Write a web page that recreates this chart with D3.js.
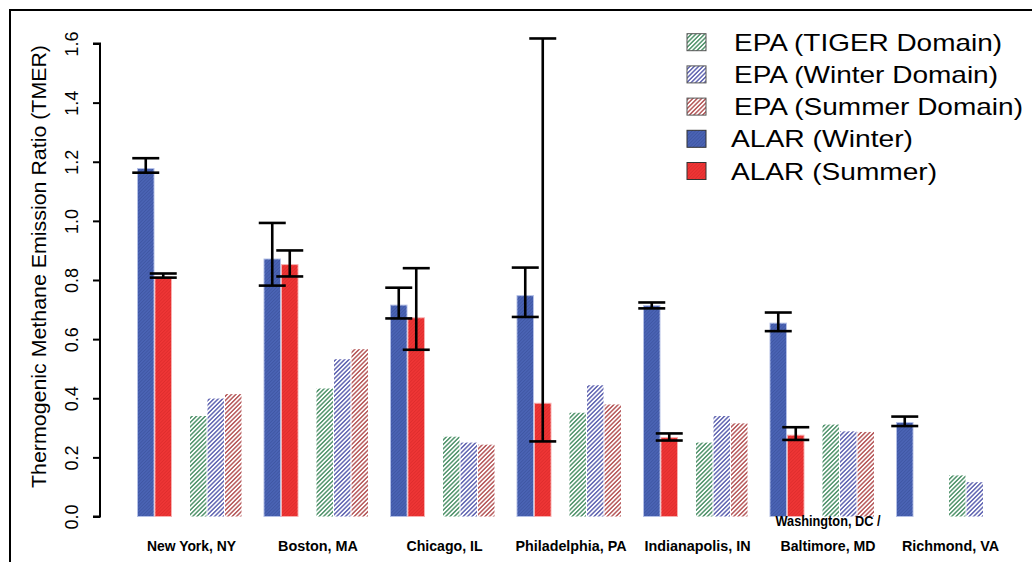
<!DOCTYPE html>
<html>
<head>
<meta charset="utf-8">
<script src="https://cdn.jsdelivr.net/npm/d3@7"></script>
<style>
  html, body { margin: 0; padding: 0; background: #fff; }
  svg { display: block; font-family: "Liberation Sans", Arial, Helvetica, sans-serif; }
</style>
</head>
<body>
<svg id="chart" width="1032" height="562"></svg>
<script>
// City groups along the x axis (labels may span two lines)
const cities = ["New York, NY", "Boston, MA", "Chicago, IL", "Philadelphia, PA",
                "Indianapolis, IN", "Washington, DC /\nBaltimore, MD", "Richmond, VA"];

// ALAR observed TMER with lower / upper error bounds
const alarWinter   = [1.177, 0.871, 0.715, 0.747, 0.713, 0.654, 0.318];
const alarWinterLo = [1.163, 0.781, 0.670, 0.675, 0.704, 0.627, 0.306];
const alarWinterHi = [1.212, 0.993, 0.774, 0.842, 0.724, 0.690, 0.338];
const alarSummer   = [0.810, 0.852, 0.672, 0.383, 0.267, 0.275, 0];
const alarSummerLo = [0.808, 0.812, 0.564, 0.254, 0.257, 0.259, null];
const alarSummerHi = [0.822, 0.900, 0.840, 1.617, 0.281, 0.302, null];

// EPA inventory ratios over three domains
const epaTiger  = [0.340, 0.433, 0.270, 0.351, 0.250, 0.311, 0.139];
const epaWinter = [0.399, 0.532, 0.250, 0.444, 0.340, 0.288, 0.116];
const epaSummer = [0.414, 0.566, 0.243, 0.379, 0.315, 0.286, 0];

const yTicks = [0.0, 0.2, 0.4, 0.6, 0.8, 1.0, 1.2, 1.4, 1.6];

const legendLabels = ["EPA (TIGER Domain)", "EPA (Winter Domain)", "EPA (Summer Domain)",
                      "ALAR (Winter)", "ALAR (Summer)"];

// Series definitions built from the arrays above
const series = [
  { key: "alarW", slot: "s0", values: alarWinter, lo: alarWinterLo, hi: alarWinterHi, fill: "#4a63b4", edge: "#b4c0e6", kind: "solid", hatch: "#3b529c" },
  { key: "alarS", slot: "s1", values: alarSummer, lo: alarSummerLo, hi: alarSummerHi, fill: "#ee3535", edge: "#f7b0b0", kind: "solid", hatch: "#d82a2a" },
  { key: "epaT",  slot: "s3", values: epaTiger,  fill: "#2f7f4f", kind: "hatch" },
  { key: "epaW",  slot: "s4", values: epaWinter, fill: "#4348a3", kind: "hatch" },
  { key: "epaS",  slot: "s5", values: epaSummer, fill: "#a8383a", kind: "hatch" }
];

const svg = d3.select("#chart");

// Outer frame
svg.append("rect")
  .attr("x", 10).attr("y", 10).attr("width", 1100).attr("height", 600)
  .attr("fill", "none").attr("stroke", "#000").attr("stroke-width", 2);

// Diagonal line patterns
const defs = svg.append("defs");
function addPattern(id, color, spacing, width, opacity) {
  const p = defs.append("pattern")
    .attr("id", id)
    .attr("patternUnits", "userSpaceOnUse")
    .attr("width", spacing).attr("height", spacing)
    .attr("patternTransform", "rotate(45)");
  p.append("line")
    .attr("x1", spacing / 2).attr("y1", 0)
    .attr("x2", spacing / 2).attr("y2", spacing)
    .attr("stroke", color).attr("stroke-width", width)
    .attr("stroke-opacity", opacity);
}
series.forEach(s => {
  if (s.kind === "hatch") addPattern("pat-" + s.key, s.fill, 3.1, 1.25, 1);
  else addPattern("pat-" + s.key, s.hatch, 2.4, 0.8, 0.7);
});

// Scales
const y = d3.scaleLinear().domain([0, 1.6]).range([516.5, 43.5]);

const x0 = d3.scaleBand()
  .domain(d3.range(cities.length))
  .range([126.25, 1011.75])
  .paddingInner(0.17)
  .paddingOuter(0.085);

const x1 = d3.scaleBand()
  .domain(["s0", "s1", "s2", "s3", "s4", "s5"])
  .range([0, x0.bandwidth()])
  .padding(0);

// Bars
const groups = svg.append("g").selectAll("g")
  .data(cities.map((c, i) => i))
  .join("g")
  .attr("transform", i => `translate(${x0(i)},0)`);

series.forEach(s => {
  groups.each(function (i) {
    const v = s.values[i];
    if (v == null) return;
    const g = d3.select(this);
    const bx = x1(s.slot), bw = x1.bandwidth();
    if (s.kind === "solid") {
      g.append("rect")
        .attr("x", bx + 0.5).attr("y", y(v))
        .attr("width", bw - 1).attr("height", y(0) - y(v))
        .attr("fill", s.fill)
        .attr("stroke", s.edge).attr("stroke-width", 1);
      g.append("rect")
        .attr("x", bx + 1).attr("y", y(v) + 0.5)
        .attr("width", bw - 2).attr("height", Math.max(0, y(0) - y(v) - 1))
        .attr("fill", `url(#pat-${s.key})`);
    } else {
      g.append("rect")
        .attr("x", bx + 0.5).attr("y", y(v))
        .attr("width", bw - 1).attr("height", y(0) - y(v))
        .attr("fill", `url(#pat-${s.key})`)
        .attr("stroke", v === 0 ? "#e8b8b8" : "none").attr("stroke-width", 0.8);
    }
  });
});

// Error bars on the ALAR bars
const capHalf = 13.5;
series.filter(s => s.lo).forEach(s => {
  groups.each(function (i) {
    const lo = s.lo[i], hi = s.hi[i];
    if (lo == null || hi == null) return;
    const cx = x1(s.slot) + x1.bandwidth() / 2;
    const g = d3.select(this).append("g")
      .attr("stroke", "#000").attr("stroke-width", 2.6).attr("fill", "none");
    g.append("line").attr("x1", cx).attr("x2", cx).attr("y1", y(lo)).attr("y2", y(hi));
    g.append("line").attr("x1", cx - capHalf).attr("x2", cx + capHalf).attr("y1", y(lo)).attr("y2", y(lo));
    g.append("line").attr("x1", cx - capHalf).attr("x2", cx + capHalf).attr("y1", y(hi)).attr("y2", y(hi));
  });
});

// Y axis
const yAxis = svg.append("g")
  .attr("transform", "translate(100,0)")
  .call(d3.axisLeft(y).tickValues(yTicks).tickSize(7).tickPadding(0).tickFormat(d3.format(".1f")));
yAxis.select(".domain").attr("stroke-width", 2).attr("d", `M-7,${y(0)}H0V${y(1.6)}H-7`);
yAxis.selectAll(".tick line").attr("stroke-width", 2);
yAxis.selectAll(".tick text")
  .attr("transform", "rotate(-90)")
  .attr("x", 0).attr("y", -22).attr("dy", 0)
  .attr("text-anchor", "middle")
  .style("font-size", "18px")
  .style("font-family", "'Liberation Sans', Arial, sans-serif")
  .attr("fill", "#000");

// Y axis title
svg.append("text")
  .attr("transform", `translate(46,${(45 + 488) / 2}) rotate(-90)`)
  .attr("text-anchor", "middle")
  .attr("textLength", 443).attr("lengthAdjust", "spacingAndGlyphs")
  .style("font-size", "20px")
  .text("Thermogenic Methane Emission Ratio (TMER)");

// City labels under each group
const labelWidths = {
  "New York, NY": 89, "Boston, MA": 80, "Chicago, IL": 76, "Philadelphia, PA": 111,
  "Indianapolis, IN": 106, "Washington, DC /": 105, "Baltimore, MD": 95, "Richmond, VA": 97
};
cities.forEach((c, i) => {
  const lines = c.split("\n");
  const cx = x0(i) + x0.bandwidth() / 2 + (lines.length > 1 ? 6 : 2);
  lines.forEach((ln, k) => {
    svg.append("text")
      .attr("x", cx)
      .attr("y", 551 - (lines.length - 1 - k) * 25)
      .attr("text-anchor", "middle")
      .attr("textLength", labelWidths[ln] || null)
      .attr("lengthAdjust", "spacingAndGlyphs")
      .style("font-size", "15px")
      .style("font-weight", "bold")
      .text(ln);
  });
});

// Legend
const legendSwatches = [series[2], series[3], series[4], series[0], series[1]];
const legendWidths = [268, 264, 289, 182, 206];
const legend = svg.append("g");
legendLabels.forEach((lab, k) => {
  const base = 50.7 + k * 32.2;
  const s = legendSwatches[k];
  const bx = 687, by = base - 17, bw = 19, bh = 17;
  if (s.kind === "solid") {
    legend.append("rect").attr("x", bx).attr("y", by).attr("width", bw).attr("height", bh)
      .attr("fill", s.fill);
    legend.append("rect").attr("x", bx).attr("y", by).attr("width", bw).attr("height", bh)
      .attr("fill", `url(#pat-${s.key})`).attr("stroke", "#333").attr("stroke-width", 1);
  } else {
    legend.append("rect").attr("x", bx).attr("y", by).attr("width", bw).attr("height", bh)
      .attr("fill", `url(#pat-${s.key})`).attr("stroke", "#555").attr("stroke-width", 1);
  }
  legend.append("text")
    .attr("x", k < 3 ? 734 : 731)
    .attr("y", base)
    .attr("textLength", legendWidths[k]).attr("lengthAdjust", "spacingAndGlyphs")
    .style("font-size", "24px")
    .text(lab);
});
</script>
</body>
</html>
